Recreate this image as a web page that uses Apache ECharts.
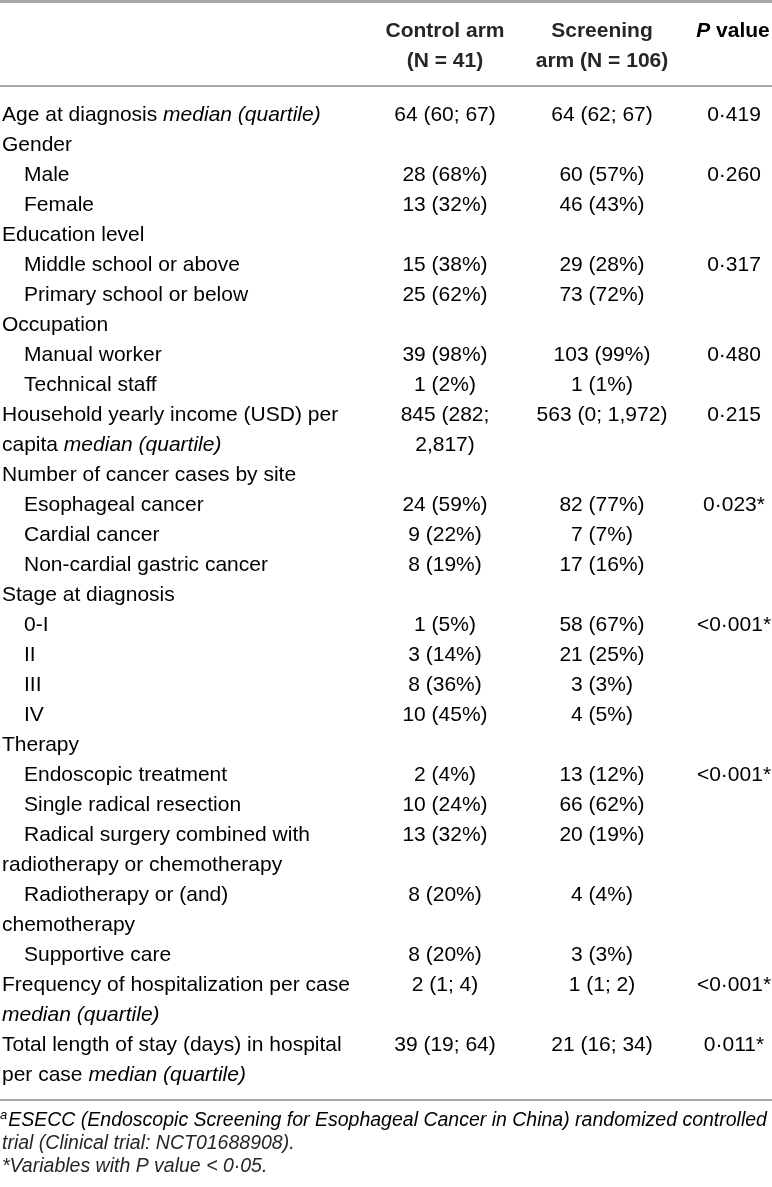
<!DOCTYPE html>
<html>
<head>
<meta charset="utf-8">
<script src="https://cdn.jsdelivr.net/npm/echarts@6/dist/echarts.min.js"></script>
<style>
  html, body { margin: 0; padding: 0; background: #fff; }
  #chart { width: 772px; height: 1187px; }
</style>
</head>
<body>
<div id="chart"></div>
<script>
// one entry per printed line of the table body
const rowLabels = [
  'Age at diagnosis median (quartile)',
  'Gender',
  'Male',
  'Female',
  'Education level',
  'Middle school or above',
  'Primary school or below',
  'Occupation',
  'Manual worker',
  'Technical staff',
  'Household yearly income (USD) per',
  'capita median (quartile)',
  'Number of cancer cases by site',
  'Esophageal cancer',
  'Cardial cancer',
  'Non-cardial gastric cancer',
  'Stage at diagnosis',
  '0-I',
  'II',
  'III',
  'IV',
  'Therapy',
  'Endoscopic treatment',
  'Single radical resection',
  'Radical surgery combined with',
  'radiotherapy or chemotherapy',
  'Radiotherapy or (and)',
  'chemotherapy',
  'Supportive care',
  'Frequency of hospitalization per case',
  'median (quartile)',
  'Total length of stay (days) in hospital',
  'per case median (quartile)'
];
const rowIndent = [0, 0, 1, 1, 0, 1, 1, 0, 1, 1, 0, 0, 0, 1, 1, 1, 0, 1, 1, 1, 1, 0, 1, 1, 1, 0, 1, 0, 1, 0, 0, 0, 0];
const controlArm = [
  '64 (60; 67)', '', '28 (68%)', '13 (32%)', '', '15 (38%)', '25 (62%)', '', '39 (98%)', '1 (2%)',
  '845 (282;', '2,817)', '', '24 (59%)', '9 (22%)', '8 (19%)', '', '1 (5%)', '3 (14%)', '8 (36%)',
  '10 (45%)', '', '2 (4%)', '10 (24%)', '13 (32%)', '', '8 (20%)', '', '8 (20%)', '2 (1; 4)',
  '', '39 (19; 64)', ''
];
const screeningArm = [
  '64 (62; 67)', '', '60 (57%)', '46 (43%)', '', '29 (28%)', '73 (72%)', '', '103 (99%)', '1 (1%)',
  '563 (0; 1,972)', '', '', '82 (77%)', '7 (7%)', '17 (16%)', '', '58 (67%)', '21 (25%)', '3 (3%)',
  '4 (5%)', '', '13 (12%)', '66 (62%)', '20 (19%)', '', '4 (4%)', '', '3 (3%)', '1 (1; 2)',
  '', '21 (16; 34)', ''
];
const pValues = [
  '0·419', '', '0·260', '', '', '0·317', '', '', '0·480', '',
  '0·215', '', '', '0·023*', '', '', '', '<0·001*', '', '',
  '', '', '<0·001*', '', '', '', '', '', '', '<0·001*',
  '', '0·011*', ''
];
const headControl = ['Control arm', '(N = 41)'];
const headScreening = ['Screening', 'arm (N = 106)'];
const headP = 'P value';
const footnotes = [
  'ESECC (Endoscopic Screening for Esophageal Cancer in China) randomized controlled',
  'trial (Clinical trial: NCT01688908).',
  '*Variables with P value < 0·05.'
];

const W = 772;
const FONT = '"Liberation Sans", Arial, Helvetica, sans-serif';
const TEXT = '#262626';
const RULE = '#a8a8a8';
const COL = { label: 2, indent: 24, control: 445, screening: 602, p: 734 };
const ITALIC = 'median (quartile)';

const rich = {
  n: { fontFamily: FONT, fontSize: 21, color: TEXT },
  i: { fontFamily: FONT, fontSize: 21, color: TEXT, fontStyle: 'italic' }
};

function markup(t) {
  const at = t.indexOf(ITALIC);
  if (at < 0) return '{n|' + t + '}';
  let s = at > 0 ? '{n|' + t.slice(0, at) + '}' : '';
  s += '{i|' + ITALIC + '}';
  const rest = t.slice(at + ITALIC.length);
  if (rest) s += '{n|' + rest + '}';
  return s;
}

function textSeries(name, texts, xOf, align) {
  return {
    type: 'custom',
    name: name,
    silent: true,
    data: texts.map((t, i) => [xOf(i), i]),
    renderItem: function (params, api) {
      const t = texts[params.dataIndex];
      if (!t) return null;
      const p = api.coord([api.value(0), api.value(1)]);
      return {
        type: 'text',
        x: p[0],
        y: p[1],
        style: { text: markup(t), rich: rich, align: align, verticalAlign: 'middle' }
      };
    }
  };
}

const chart = echarts.init(document.getElementById('chart'), null, { renderer: 'canvas' });

const bold = { fontFamily: FONT, fontSize: 21, fontWeight: 'bold', fill: TEXT, align: 'center', verticalAlign: 'middle' };
const foot = { fontFamily: FONT, fontSize: 19.5, fontStyle: 'italic', fill: TEXT, align: 'left', verticalAlign: 'middle' };

chart.setOption({
  animation: false,
  grid: { left: 0, right: 0, top: 100, bottom: 97 },
  xAxis: { type: 'value', min: 0, max: W, show: false },
  yAxis: {
    type: 'category',
    data: rowLabels.map((_, i) => i),
    inverse: true,
    show: false
  },
  series: [
    textSeries('label', rowLabels, i => (rowIndent[i] ? COL.indent : COL.label), 'left'),
    textSeries('control', controlArm, () => COL.control, 'center'),
    textSeries('screening', screeningArm, () => COL.screening, 'center'),
    textSeries('p', pValues, () => COL.p, 'center')
  ],
  graphic: [
    { type: 'line', shape: { x1: 0, y1: 1.5, x2: W, y2: 1.5 }, style: { stroke: RULE, lineWidth: 3 } },
    { type: 'line', shape: { x1: 0, y1: 86, x2: W, y2: 86 }, style: { stroke: RULE, lineWidth: 2 } },
    { type: 'line', shape: { x1: 0, y1: 1100, x2: W, y2: 1100 }, style: { stroke: RULE, lineWidth: 2 } },
    { type: 'text', x: COL.control, y: 31, style: Object.assign({ text: headControl[0] }, bold) },
    { type: 'text', x: COL.control, y: 61, style: Object.assign({ text: headControl[1] }, bold) },
    { type: 'text', x: COL.screening, y: 31, style: Object.assign({ text: headScreening[0] }, bold) },
    { type: 'text', x: COL.screening, y: 61, style: Object.assign({ text: headScreening[1] }, bold) },
    {
      type: 'text', x: 733, y: 31,
      style: {
        text: '{bi|' + headP.slice(0, 1) + '}{b|' + headP.slice(1) + '}',
        align: 'center', verticalAlign: 'middle',
        rich: {
          bi: { fontFamily: FONT, fontSize: 21, fontWeight: 'bold', fontStyle: 'italic', color: TEXT },
          b: { fontFamily: FONT, fontSize: 21, fontWeight: 'bold', color: TEXT }
        }
      }
    },
    {
      type: 'text', x: 0, y: 1121,
      style: {
        text: '{sup|a}{it|' + footnotes[0] + '}',
        align: 'left', verticalAlign: 'middle',
        rich: {
          sup: { fontFamily: FONT, fontSize: 13, fontStyle: 'italic', color: TEXT, verticalAlign: 'top', lineHeight: 24, padding: [0, 1, 8, 0] },
          it: { fontFamily: FONT, fontSize: 19.5, fontStyle: 'italic', color: TEXT, lineHeight: 24 }
        }
      }
    },
    { type: 'text', x: 2, y: 1144, style: Object.assign({ text: footnotes[1] }, foot) },
    { type: 'text', x: 2, y: 1167, style: Object.assign({ text: footnotes[2] }, foot) }
  ]
});
</script>
</body>
</html>
